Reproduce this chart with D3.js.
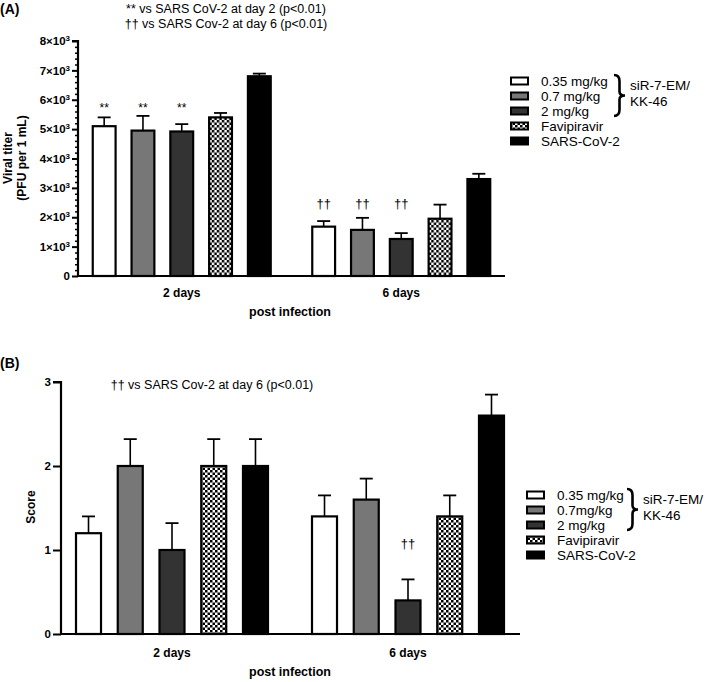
<!DOCTYPE html>
<html><head><meta charset="utf-8">
<script src="https://cdn.jsdelivr.net/npm/d3@7"></script>
<style>
body{margin:0;background:#fff;}
svg{font-family:"Liberation Sans",Arial,sans-serif;}
</style></head>
<body>
<svg id="chart" width="709" height="682"></svg>
<script>
// ---------- DATA ----------
const groups = ["2 days", "6 days"];
const seriesNames = ["0.35 mg/kg", "0.7 mg/kg", "2 mg/kg", "Favipiravir", "SARS-CoV-2"];
const seriesNamesB = ["0.35 mg/kg", "0.7mg/kg", "2 mg/kg", "Favipiravir", "SARS-CoV-2"];
const seriesFill = ["#ffffff", "#777777", "#333333", "url(#checker)", "#000000"];

// Panel A: viral titer (PFU per 1 mL)
const titerMean = [[5100, 4950, 4920, 5400, 6800], [1680, 1570, 1260, 1950, 3300]];
const titerErr  = [[300, 500, 250, 150, 90], [190, 410, 200, 480, 180]];
const titerTicks = [0, 1000, 2000, 3000, 4000, 5000, 6000, 7000, 8000];
const titerTickBase = ["0", "1×10", "2×10", "3×10", "4×10", "5×10", "6×10", "7×10", "8×10"];
const titerTickExp  = ["", "3", "3", "3", "3", "3", "3", "3", "3"];
const titerMarks = [["**", "**", "**", "", ""], ["††", "††", "††", "", ""]];
const titleA = ["** vs SARS CoV-2 at day 2 (p<0.01)", "†† vs SARS Cov-2 at day 6 (p<0.01)"];

// Panel B: score
const scoreMean = [[1.2, 2.0, 1.0, 2.0, 2.0], [1.4, 1.6, 0.4, 1.4, 2.6]];
const scoreErr  = [[0.2, 0.32, 0.32, 0.32, 0.32], [0.25, 0.25, 0.25, 0.25, 0.25]];
const scoreTicks = [0, 1, 2, 3];
const scoreTickBase = ["0", "1", "2", "3"];
const scoreTickExp  = ["", "", "", ""];
const scoreMarks = [["", "", "", "", ""], ["", "", "††", "", ""]];
const titleB = ["†† vs SARS Cov-2 at day 6 (p<0.01)"];

const braceLabel = ["siR-7-EM/", "KK-46"];

// ---------- DRAW ----------
const svg = d3.select("#chart");
const defs = svg.append("defs");
const pat = defs.append("pattern").attr("id", "checker").attr("patternUnits", "userSpaceOnUse")
  .attr("width", 5).attr("height", 5);
pat.append("rect").attr("width", 5).attr("height", 5).attr("fill", "#fff");
pat.append("rect").attr("width", 2.5).attr("height", 2.5).attr("fill", "#000");
pat.append("rect").attr("x", 2.5).attr("y", 2.5).attr("width", 2.5).attr("height", 2.5).attr("fill", "#000");

function bracePath(x, y0, y1, w) {
  const h = y1 - y0, ym = (y0 + y1) / 2, xm = x + w / 2;
  return `M${x},${y0} Q${xm},${y0} ${xm},${y0 + h * 0.15} L${xm},${ym - h * 0.1} Q${xm},${ym} ${x + w},${ym}` +
         ` Q${xm},${ym} ${xm},${ym + h * 0.1} L${xm},${y1 - h * 0.15} Q${xm},${y1} ${x},${y1}`;
}

function panel(cfg) {
  const g = svg.append("g");
  const x0 = d3.scaleBand().domain(groups).range(cfg.groupRange).paddingInner(cfg.gPad).paddingOuter(cfg.gPad / 2);
  const x1 = d3.scaleBand().domain(d3.range(seriesNames.length)).range([0, x0.bandwidth()]).paddingInner(cfg.sPad);
  const y = d3.scaleLinear().domain(cfg.domain).range([cfg.yBottom, cfg.yTop]);

  // bars
  groups.forEach((gr, gi) => {
    const gg = g.append("g").attr("transform", `translate(${x0(gr)},0)`);
    cfg.mean[gi].forEach((v, si) => {
      const bx = x1(si), bw = x1.bandwidth(), cx = bx + bw / 2;
      const e = cfg.err[gi][si];
      gg.append("line").attr("x1", cx).attr("x2", cx).attr("y1", y(v)).attr("y2", y(v + e))
        .attr("stroke", "#000").attr("stroke-width", 1.6);
      gg.append("line").attr("x1", cx - 6.5).attr("x2", cx + 6.5).attr("y1", y(v + e)).attr("y2", y(v + e))
        .attr("stroke", "#000").attr("stroke-width", 1.8);
      gg.append("rect").attr("x", bx + 1).attr("y", y(v)).attr("width", bw - 2).attr("height", y(0) - y(v))
        .attr("fill", seriesFill[si]).attr("stroke", "#000").attr("stroke-width", 2.2);
      const m = cfg.marks[gi][si];
      if (m) {
        gg.append("text").attr("x", cx).attr("y", cfg.markY[gi]).attr("text-anchor", "middle")
          .attr("fill", "#000").attr("font-size", m === "**" ? 12 : 13).text(m);
      }
    });
  });

  // y axis
  if (cfg.minor) {
    g.append("g").attr("transform", `translate(${cfg.axisX},0)`)
      .call(d3.axisLeft(y).tickValues(cfg.minor).tickSize(3).tickFormat(""))
      .call(a => a.select(".domain").remove())
      .call(a => a.selectAll("line").attr("stroke-width", 1.5));
  }
  const ya = g.append("g").attr("transform", `translate(${cfg.axisX},0)`)
    .call(d3.axisLeft(y).tickValues(cfg.ticks).tickSize(cfg.tickLen).tickPadding(2)
      .tickFormat((d, i) => cfg.tickBase[i]));
  ya.select(".domain").attr("stroke-width", 2.2).attr("d", `M${-cfg.tickLen},${y(cfg.domain[1])}H0V${y(0)}`);
  ya.selectAll("line").attr("stroke-width", 2);
  ya.selectAll("text").attr("font-size", cfg.tickFont).attr("font-weight", "bold")
    .attr("font-family", '"Liberation Sans",Arial,sans-serif').attr("fill", "#000")
    .each(function (d, i) {
      const ex = cfg.tickExp[i];
      if (ex) {
        d3.select(this).append("tspan").attr("font-size", 8).attr("dy", -4).text(ex);
      }
    });

  // x axis line
  g.append("line").attr("x1", cfg.axisX - 1).attr("x2", cfg.xEnd).attr("y1", y(0)).attr("y2", y(0))
    .attr("stroke", "#000").attr("stroke-width", 2.2);
  groups.forEach(gr => {
    g.append("text").attr("x", x0(gr) + x0.bandwidth() / 2).attr("y", cfg.groupLabelY)
      .attr("text-anchor", "middle").attr("font-size", 12).attr("font-weight", "bold").text(gr);
  });
  g.append("text").attr("x", 290).attr("y", cfg.xTitleY).attr("text-anchor", "middle")
    .attr("font-size", 12.5).attr("font-weight", "bold").text("post infection");

  // y title
  cfg.yTitle.forEach((t, i) => {
    g.append("text").attr("transform", `translate(${cfg.yTitleX[i]},${cfg.yTitleCY}) rotate(-90)`)
      .attr("text-anchor", "middle").attr("font-size", 12).attr("font-weight", "bold").text(t);
  });

  // panel label & title
  g.append("text").attr("x", 0).attr("y", cfg.labelY).attr("font-size", 14).attr("font-weight", "bold").text(cfg.label);
  cfg.title.forEach((t, i) => {
    g.append("text").attr("x", cfg.titleX).attr("y", cfg.titleY + i * 14.5).attr("text-anchor", "middle")
      .attr("font-size", 12.5).text(t);
  });

  // legend
  const lg = g.append("g");
  cfg.legendNames.forEach((n, i) => {
    const yy = cfg.legY + i * 15;
    lg.append("rect").attr("x", cfg.legX).attr("y", yy - 3.5).attr("width", 17).attr("height", 7)
      .attr("fill", seriesFill[i]).attr("stroke", "#000").attr("stroke-width", 2);
    lg.append("text").attr("x", cfg.legX + 30).attr("y", yy + 4.8).attr("font-size", 13.5).text(n);
  });
  lg.append("path").attr("d", bracePath(cfg.braceX, cfg.legY - 6, cfg.legY + 2 * 15 + 5, 11))
    .attr("fill", "none").attr("stroke", "#000").attr("stroke-width", 2.6);
  braceLabel.forEach((t, i) => {
    lg.append("text").attr("x", cfg.braceX + 16).attr("y", cfg.legY + 11 + i * 16 - 2).attr("font-size", 13.5).text(t);
  });
}

panel({
  groupRange: [72, 511], gPad: 0.18, sPad: 0.36,
  domain: [0, 8000], yBottom: 276, yTop: 41,
  mean: titerMean, err: titerErr, marks: titerMarks, markY: [112, 208],
  axisX: 78, xEnd: 505, tickLen: 6, ticks: titerTicks, tickBase: titerTickBase, tickExp: titerTickExp, tickFont: 11.5,
  minor: d3.range(0, 8001, 200).filter(v => v % 1000 !== 0),
  groupLabelY: 297, xTitleY: 316,
  yTitle: ["Viral titer", "(PFU per 1 mL)"], yTitleX: [12, 26], yTitleCY: 158,
  label: "(A)", labelY: 14, title: titleA, titleX: 226, titleY: 13,
  legendNames: seriesNames, legX: 511, legY: 81, braceX: 614
});

panel({
  groupRange: [54, 526], gPad: 0.178, sPad: 0.353,
  domain: [0, 3], yBottom: 634, yTop: 382,
  mean: scoreMean, err: scoreErr, marks: scoreMarks, markY: [0, 548],
  axisX: 61, xEnd: 520, tickLen: 8, ticks: scoreTicks, tickBase: scoreTickBase, tickExp: scoreTickExp, tickFont: 11.5,
  minor: null,
  groupLabelY: 657, xTitleY: 676,
  yTitle: ["Score"], yTitleX: [35], yTitleCY: 507,
  label: "(B)", labelY: 368, title: titleB, titleX: 212, titleY: 389,
  legendNames: seriesNamesB, legX: 527, legY: 495, braceX: 627
});
</script>
</body></html>
